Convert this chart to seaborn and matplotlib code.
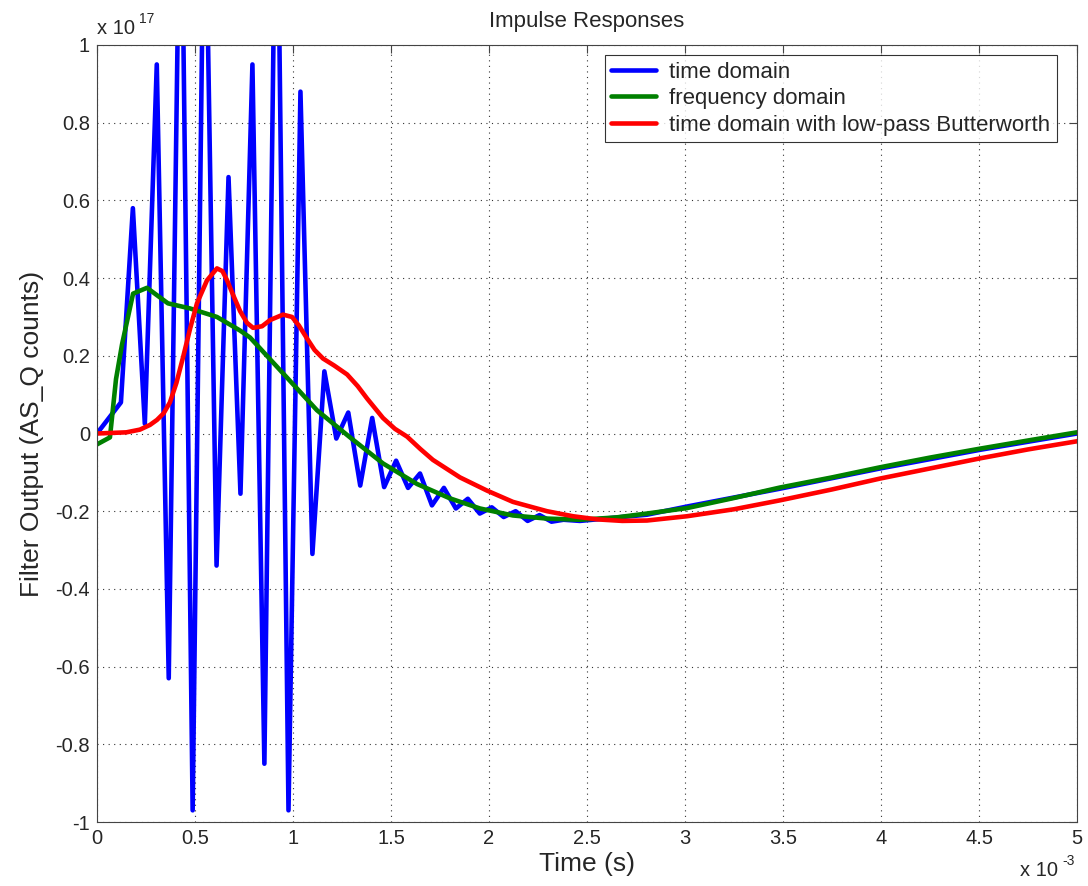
import numpy as np
import pandas as pd
import matplotlib
matplotlib.use("Agg")
import matplotlib.pyplot as plt
from matplotlib.ticker import FuncFormatter
import seaborn as sns

# time in ms (x 10^-3 s), output in units of 10^17 counts
t_time = [0.000, 0.061, 0.122, 0.183, 0.244, 0.305, 0.366, 0.427, 0.488, 0.549,
          0.610, 0.671, 0.732, 0.793, 0.854, 0.916, 0.977, 1.038, 1.099, 1.160,
          1.221, 1.282, 1.343, 1.404, 1.465, 1.526, 1.587, 1.648, 1.709, 1.770,
          1.831, 1.892, 1.953, 2.014, 2.075, 2.136, 2.197, 2.258, 2.319, 2.380,
          2.464, 2.806, 3.010, 3.485, 3.995, 4.505, 5.000]
y_time = [0.00, 0.04, 0.08, 0.58, 0.025, 0.95, -0.63, 1.60, -0.97, 1.55,
          -0.34, 0.66, -0.155, 0.95, -0.85, 1.64, -0.97, 0.88, -0.31, 0.16,
          -0.013, 0.054, -0.134, 0.04, -0.138, -0.07, -0.14, -0.103, -0.185, -0.14,
          -0.193, -0.168, -0.206, -0.19, -0.215, -0.20, -0.225, -0.21, -0.227, -0.222,
          -0.225, -0.209, -0.188, -0.142, -0.09, -0.042, 0.000]

t_freq = [0.000, 0.066, 0.097, 0.128, 0.184, 0.255, 0.362, 0.474, 0.612, 0.730,
          0.781, 0.949, 1.122, 1.291, 1.459, 1.633, 1.801, 1.954, 2.122, 2.296,
          2.464, 2.650, 2.806, 3.010, 3.250, 3.485, 3.750, 3.995, 4.250, 4.505, 4.750, 5.000]
y_freq = [-0.028, -0.01, 0.14, 0.23, 0.36, 0.375, 0.335, 0.322, 0.30, 0.265,
          0.247, 0.155, 0.06, -0.01, -0.077, -0.13, -0.167, -0.193, -0.211, -0.219,
          -0.222, -0.216, -0.206, -0.192, -0.166, -0.139, -0.113, -0.087, -0.062, -0.039, -0.018, 0.003]

t_butter = [0.000, 0.150, 0.219, 0.270, 0.306, 0.340, 0.372, 0.405, 0.439, 0.475,
            0.510, 0.561, 0.612, 0.640, 0.663, 0.700, 0.730, 0.765, 0.796, 0.842,
            0.883, 0.949, 0.995, 1.030, 1.071, 1.110, 1.153, 1.210, 1.276, 1.330,
            1.378, 1.459, 1.520, 1.582, 1.650, 1.714, 1.852, 1.990, 2.122, 2.296,
            2.429, 2.551, 2.680, 2.806, 3.010, 3.250, 3.485, 3.750, 3.995, 4.250,
            4.505, 4.750, 5.000]
y_butter = [0.000, 0.003, 0.010, 0.022, 0.035, 0.052, 0.080, 0.130, 0.196, 0.270,
            0.335, 0.394, 0.425, 0.418, 0.395, 0.350, 0.315, 0.285, 0.272, 0.276,
            0.292, 0.306, 0.300, 0.278, 0.245, 0.215, 0.193, 0.175, 0.152, 0.122,
            0.090, 0.040, 0.012, -0.008, -0.040, -0.068, -0.113, -0.147, -0.176, -0.200,
            -0.213, -0.221, -0.225, -0.224, -0.213, -0.195, -0.172, -0.144, -0.116, -0.090,
            -0.064, -0.041, -0.020]

labels = ["time domain", "frequency domain", "time domain with low-pass Butterworth"]
colors = ["#0000ff", "#008000", "#ff0000"]

sns.set_style("white")
plt.rcParams["font.family"] = ["Liberation Sans", "DejaVu Sans"]
plt.rcParams["xtick.direction"] = "in"
plt.rcParams["ytick.direction"] = "in"

fig = plt.figure(figsize=(10.88, 8.86), dpi=100)
ax = fig.add_axes([97 / 1088, 1 - 822 / 886, 980 / 1088, 777 / 886])

for t, y, lab, c in zip([t_time, t_freq, t_butter], [y_time, y_freq, y_butter], labels, colors):
    df = pd.DataFrame({"t": t, "y": y})
    sns.lineplot(data=df, x="t", y="y", ax=ax, color=c, linewidth=3.3,
                 label=lab, estimator=None, sort=False)

ax.set_xlim(0, 5)
ax.set_ylim(-1, 1)
ax.set_xticks(np.arange(0, 5.01, 0.5))
ax.set_yticks(np.arange(-1, 1.01, 0.2))
fmt = FuncFormatter(lambda v, p: "%g" % (round(v, 2) + 0.0))
ax.xaxis.set_major_formatter(fmt)
ax.yaxis.set_major_formatter(fmt)
ax.tick_params(axis="both", labelsize=14.5, length=6, width=0.8, color="#444444",
               top=True, right=True, pad=5)
ax.grid(True, linestyle=(0, (1, 4)), color="#333333", linewidth=0.8)
for s in ax.spines.values():
    s.set_color("#444444")
    s.set_linewidth(0.8)

ax.set_xlabel("Time (s)", fontsize=19, labelpad=3)
ax.set_ylabel("Filter Output (AS_Q counts)", fontsize=19, labelpad=8)
ax.set_title("Impulse Responses", fontsize=16, pad=13)

# MATLAB style exponent labels
fig.text(97 / 1088, 1 - 34 / 886, "x 10", fontsize=14.5, ha="left", va="baseline")
fig.text(139 / 1088, 1 - 23 / 886, "17", fontsize=10, ha="left", va="baseline")
fig.text(1020 / 1088, 1 - 876 / 886, "x 10", fontsize=14.5, ha="left", va="baseline")
fig.text(1062 / 1088, 1 - 865 / 886, "-3", fontsize=10, ha="left", va="baseline")

leg = ax.legend(loc="upper right", bbox_to_anchor=(1057 / 1088, 1 - 55 / 886),
                bbox_transform=fig.transFigure, fontsize=16, frameon=True,
                fancybox=False, edgecolor="black", handlelength=2.0,
                handletextpad=0.6, borderpad=0.3, labelspacing=0.25,
                borderaxespad=0)
leg.get_frame().set_linewidth(0.8)

fig.savefig("out.png", dpi=100)
